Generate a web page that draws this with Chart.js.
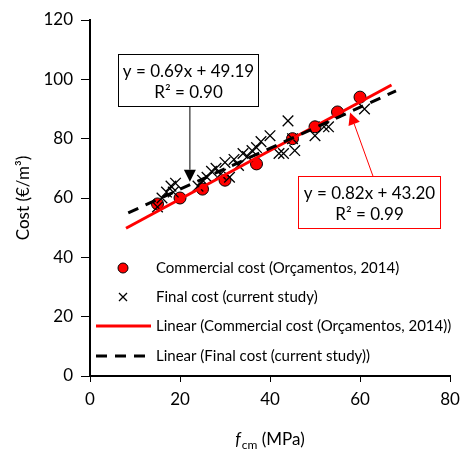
<!DOCTYPE html>
<html>
<head>
<meta charset="utf-8">
<script src="https://cdn.jsdelivr.net/npm/chart.js@4.4.1/dist/chart.umd.min.js"></script>
<style>
  body { margin: 0; background: #fff; }
  #chart { display: block; }
</style>
</head>
<body>
<canvas id="chart" width="463" height="457"></canvas>
<script>
// commercial cost (Orçamentos, 2014)
const fcmCommercial = [15, 20, 25, 30, 37, 45, 50, 55, 60];
const costCommercial = [58, 60, 63, 66, 71.5, 80, 84, 89, 94];

// final cost (current study)
const fcmFinal = [15, 16, 17, 18, 18.5, 19, 24, 25, 26, 27, 28, 29, 30, 31, 32, 33, 34, 35, 36, 37, 38, 40, 42, 43, 44, 45, 45.5, 50, 52, 53, 61];
const costFinal = [57, 60, 62, 64, 62, 65, 64, 66, 67, 69, 70, 68, 72, 67, 73, 71, 75, 74, 76, 77, 79, 81, 75, 75, 86, 80, 76, 81, 84, 84, 90];

// trendline end points as drawn
const trendCommercialX = [8, 67];
const trendCommercialY = [49.8, 98.1];
const trendFinalX = [8.5, 68];
const trendFinalY = [55.0, 96.1];

const xTicks = [0, 20, 40, 60, 80];
const yTicks = [0, 20, 40, 60, 80, 100, 120];

const legendLabels = [
  'Commercial cost (Orçamentos, 2014)',
  'Final cost (current study)',
  'Linear (Commercial cost (Orçamentos, 2014))',
  'Linear (Final cost (current study))'
];

const eqCommercial = ['y = 0.82x + 43.20', 'R² = 0.99'];
const eqFinal = ['y = 0.69x + 49.19', 'R² = 0.90'];

const FONT = 'Lato, "Open Sans", sans-serif';

function toPoints(xs, ys) {
  return xs.map((x, i) => ({ x: x, y: ys[i] }));
}

function arrow(ctx, x1, y1, x2, y2, color, head) {
  const a = Math.atan2(y2 - y1, x2 - x1);
  ctx.strokeStyle = color;
  ctx.fillStyle = color;
  ctx.lineWidth = 1;
  ctx.beginPath();
  ctx.moveTo(x1, y1);
  ctx.lineTo(x2 - Math.cos(a) * head, y2 - Math.sin(a) * head);
  ctx.stroke();
  ctx.beginPath();
  ctx.moveTo(x2, y2);
  ctx.lineTo(x2 - Math.cos(a) * head + Math.sin(a) * head * 0.5, y2 - Math.sin(a) * head - Math.cos(a) * head * 0.5);
  ctx.lineTo(x2 - Math.cos(a) * head - Math.sin(a) * head * 0.5, y2 - Math.sin(a) * head + Math.cos(a) * head * 0.5);
  ctx.closePath();
  ctx.fill();
}

function eqBox(chart, lines, box, from, to, color) {
  const ctx = chart.ctx;
  const xs = chart.scales.x, ys = chart.scales.y;
  const l = Math.round(xs.getPixelForValue(box[0])) + 0.5;
  const r = Math.round(xs.getPixelForValue(box[1])) + 0.5;
  const t = Math.round(ys.getPixelForValue(box[2])) + 0.5;
  const b = Math.round(ys.getPixelForValue(box[3])) + 0.5;
  arrow(ctx, xs.getPixelForValue(from[0]), ys.getPixelForValue(from[1]),
    xs.getPixelForValue(to[0]), ys.getPixelForValue(to[1]), color, 12);
  ctx.fillStyle = '#fff';
  ctx.fillRect(l, t, r - l, b - t);
  ctx.strokeStyle = color;
  ctx.lineWidth = 1;
  ctx.strokeRect(l, t, r - l, b - t);
  ctx.fillStyle = '#000';
  ctx.font = '17px ' + FONT;
  ctx.textAlign = 'center';
  ctx.textBaseline = 'middle';
  const cx = (l + r) / 2;
  ctx.fillText(lines[0], cx, t + (b - t) * 0.32);
  ctx.fillText(lines[1], cx, t + (b - t) * 0.74);
}

const decorPlugin = {
  id: 'decor',
  afterDraw(chart) {
    const ctx = chart.ctx;
    const area = chart.chartArea;
    ctx.save();

    eqBox(chart, eqFinal, [6.2, 37.3, 108.4, 90.9], [22.2, 90.9], [22.2, 65.5], '#000');
    eqBox(chart, eqCommercial, [46.2, 77.8, 67.3, 49.8], [62.9, 67.3], [57.8, 88.8], '#ff0000');

    // legend inside the plot
    const ds = chart.data.datasets;
    const rows = [268, 297, 326, 356];
    ctx.font = '15px ' + FONT;
    ctx.textAlign = 'left';
    ctx.textBaseline = 'middle';
    legendLabels.forEach((label, i) => {
      const y = rows[i];
      const d = ds[i];
      if (i === 0) {
        ctx.beginPath();
        ctx.arc(123, y, 5, 0, Math.PI * 2);
        ctx.fillStyle = d.backgroundColor;
        ctx.fill();
        ctx.strokeStyle = d.borderColor;
        ctx.lineWidth = 1;
        ctx.stroke();
      } else if (i === 1) {
        ctx.strokeStyle = d.borderColor;
        ctx.lineWidth = 1.3;
        ctx.beginPath();
        ctx.moveTo(119, y - 4); ctx.lineTo(127, y + 4);
        ctx.moveTo(127, y - 4); ctx.lineTo(119, y + 4);
        ctx.stroke();
      } else {
        ctx.strokeStyle = d.borderColor;
        ctx.lineWidth = d.borderWidth;
        ctx.setLineDash(d.borderDash || []);
        ctx.beginPath();
        ctx.moveTo(96, y); ctx.lineTo(151, y);
        ctx.stroke();
        ctx.setLineDash([]);
      }
      ctx.fillStyle = '#000';
      ctx.fillText(label, 156, y);
    });

    // y axis title
    ctx.save();
    ctx.translate(24, (area.top + area.bottom) / 2);
    ctx.rotate(-Math.PI / 2);
    ctx.font = '17px ' + FONT;
    ctx.textAlign = 'center';
    ctx.textBaseline = 'middle';
    ctx.fillStyle = '#000';
    ctx.fillText('Cost (€/m³)', 0, 0);
    ctx.restore();

    // x axis title: f_cm (MPa)
    ctx.fillStyle = '#000';
    ctx.textBaseline = 'alphabetic';
    ctx.textAlign = 'left';
    const f1 = 'italic 17px ' + FONT, f2 = '12px ' + FONT, f3 = '17px ' + FONT;
    ctx.font = f1; const w1 = ctx.measureText('f').width + 1;
    ctx.font = f2; const w2 = ctx.measureText('cm').width;
    ctx.font = f3; const w3 = ctx.measureText(' (MPa)').width;
    let x0 = (area.left + area.right) / 2 - (w1 + w2 + w3) / 2;
    const base = 445;
    ctx.font = f1; ctx.fillText('f', x0, base); x0 += w1;
    ctx.font = f2; ctx.fillText('cm', x0, base + 4); x0 += w2;
    ctx.font = f3; ctx.fillText(' (MPa)', x0, base);

    ctx.restore();
  }
};

new Chart(document.getElementById('chart'), {
  type: 'scatter',
  data: {
    datasets: [
      {
        label: legendLabels[0],
        data: toPoints(fcmCommercial, costCommercial),
        pointStyle: 'circle',
        pointRadius: 6,
        backgroundColor: '#ff0000',
        borderColor: '#000',
        borderWidth: 1,
        order: 4
      },
      {
        label: legendLabels[1],
        data: toPoints(fcmFinal, costFinal),
        pointStyle: 'crossRot',
        pointRadius: 7.5,
        borderColor: '#000',
        backgroundColor: '#000',
        borderWidth: 1.3,
        order: 3
      },
      {
        label: legendLabels[2],
        type: 'line',
        data: toPoints(trendCommercialX, trendCommercialY),
        borderColor: '#ff0000',
        backgroundColor: '#ff0000',
        borderWidth: 3,
        pointRadius: 0,
        order: 2
      },
      {
        label: legendLabels[3],
        type: 'line',
        data: toPoints(trendFinalX, trendFinalY),
        borderColor: '#000',
        backgroundColor: '#000',
        borderWidth: 3,
        borderDash: [11, 8],
        pointRadius: 0,
        order: 1
      }
    ]
  },
  options: {
    responsive: false,
    animation: false,
    devicePixelRatio: 1,
    layout: { padding: { top: 20, right: 13, left: 0, bottom: 0 } },
    plugins: {
      legend: { display: false },
      tooltip: { enabled: false }
    },
    scales: {
      x: {
        type: 'linear',
        min: 0,
        max: 80,
        afterBuildTicks: (s) => { s.ticks = xTicks.map(v => ({ value: v })); },
        afterFit: (s) => { s.height = 81; s.paddingLeft = 0; s.paddingRight = 0; },
        grid: { display: true, drawOnChartArea: false, tickLength: 6, color: '#000', lineWidth: 1 },
        border: { display: true, color: '#000', width: 2 },
        ticks: { color: '#000', font: { family: FONT, size: 17 }, padding: 7 }
      },
      y: {
        type: 'linear',
        min: 0,
        max: 120,
        afterBuildTicks: (s) => { s.ticks = yTicks.map(v => ({ value: v })); },
        afterFit: (s) => { s.width = 90; s.paddingTop = 0; s.paddingBottom = 0; },
        grid: { display: true, drawOnChartArea: false, tickLength: 9, color: '#000', lineWidth: 1 },
        border: { display: true, color: '#000', width: 2 },
        ticks: { color: '#000', font: { family: FONT, size: 17 }, padding: 8 }
      }
    }
  },
  plugins: [decorPlugin]
});
</script>
</body>
</html>
